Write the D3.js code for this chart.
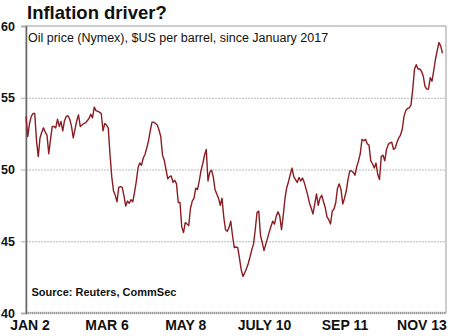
<!DOCTYPE html>
<html><head><meta charset="utf-8">
<script src="https://cdn.jsdelivr.net/npm/d3@7"></script>
<style>
html,body{margin:0;padding:0;background:#fff;}
svg{display:block;font-family:"Liberation Sans",Arial,sans-serif;}
</style></head>
<body>
<svg id="c" width="456" height="336"></svg>
<script>
// Oil price (Nymex), $US per barrel — one reading per trading day
const price = [
53.7,52.3,53.2,53.7,53.9,53.9,52.0,50.9,52.2,52.6,
52.9,52.6,52.4,51.1,52.1,53.0,53.0,52.9,53.5,53.0,
53.35,52.7,53.4,53.7,53.75,53.5,53.0,52.2,52.8,53.4,
53.8,53.0,53.1,53.2,53.25,53.4,53.55,53.85,53.6,54.35,
54.1,54.05,54.0,53.9,52.7,53.2,53.1,52.9,51.05,49.5,
48.5,48.2,47.75,48.75,48.8,48.75,48.15,47.45,47.8,47.65,
47.9,47.75,48.4,49.15,50.1,50.45,50.3,50.8,51.05,51.5,
52.0,52.7,53.3,53.3,53.2,53.1,52.75,52.3,51.0,50.65,
50.0,49.35,49.5,49.55,49.1,49.25,49.0,47.7,47.7,46.0,
45.6,46.3,46.2,46.1,47.3,47.8,48.0,48.7,48.6,49.2,
49.9,50.4,51.0,51.4,49.2,49.8,49.95,49.5,48.6,48.3,
48.0,47.5,48.0,46.7,45.8,45.7,45.95,46.4,45.4,44.55,
44.6,44.55,43.8,43.0,42.55,42.8,43.1,43.45,43.9,44.4,
44.8,45.8,47.0,47.1,45.4,44.9,44.35,44.8,45.2,45.65,
46.05,46.4,46.2,46.75,47.05,46.75,45.8,46.8,48.0,48.75,
49.15,49.65,50.1,49.5,49.3,49.1,49.45,49.2,49.4,49.1,
48.65,48.2,47.65,47.3,46.9,47.6,48.3,47.5,48.0,48.2,
47.75,47.35,46.7,46.5,46.2,47.1,47.25,47.7,48.7,49.0,
48.6,47.6,48.0,48.5,49.3,49.9,49.9,49.8,49.6,50.2,
50.6,51.1,52.1,52.0,52.1,51.8,51.7,50.6,50.4,50.1,
50.45,49.65,49.3,50.9,51.0,50.6,51.4,51.75,51.85,51.9,
51.4,51.5,51.9,52.2,52.4,52.8,53.7,54.1,54.25,54.3,
54.5,55.6,57.0,57.3,57.0,57.0,56.85,56.5,55.8,55.6,
55.6,56.4,56.15,56.9,57.7,58.3,58.85,58.6,58.1
];
const tickDays = [2, 46, 91, 136, 182, 226];
const tickLabels = ["JAN 2", "MAR 6", "MAY 8", "JULY 10", "SEP 11", "NOV 13"];
const yTicks = [40, 45, 50, 55, 60];
const gridValues = [45, 50, 55];
const title = "Inflation driver?";
const subtitle = "Oil price (Nymex), $US per barrel, since January 2017";
const source = "Source: Reuters, CommSec";

const svg = d3.select("#c");
const L = 26, R = 446, T = 26, B = 313;
const x = d3.scaleLinear().domain([0, 240]).range([L, R]);
const y = d3.scaleLinear().domain([40, 60]).range([B, T]);

// frame
svg.append("rect").attr("x", L).attr("y", T).attr("width", R - L).attr("height", B - T)
  .attr("fill", "#fff").attr("stroke", "#9a9a9a").attr("stroke-width", 1);

// gridlines
svg.append("g").selectAll("line").data(gridValues).join("line")
  .attr("x1", L).attr("x2", R).attr("y1", d => y(d) + 0.5).attr("y2", d => y(d) + 0.5)
  .attr("stroke", "#b8b8b8").attr("stroke-width", 1).attr("stroke-dasharray", "2,1");

// bottom line
svg.append("line").attr("x1", L).attr("x2", R).attr("y1", y(40)).attr("y2", y(40))
  .attr("stroke", "#9a9a9a").attr("stroke-width", 2.5).attr("stroke-dasharray", "1,1");

// y axis
const yAxis = svg.append("g").attr("transform", `translate(${L},0)`)
  .call(d3.axisLeft(y).tickValues(yTicks).tickSize(5).tickPadding(6).tickFormat(d3.format("d")));
yAxis.select(".domain").attr("stroke", "#666").attr("stroke-width", 1.5);
yAxis.selectAll(".tick line").attr("stroke", "#aaa");
yAxis.selectAll("text").attr("font-family", "Liberation Sans, Arial, sans-serif")
  .attr("font-size", 12.5).attr("font-weight", "bold").attr("fill", "#111");

// x axis
const xAxis = svg.append("g").attr("transform", `translate(0,${B})`)
  .call(d3.axisBottom(x).tickValues(tickDays).tickSize(0).tickPadding(7)
    .tickFormat((d, i) => tickLabels[i]));
xAxis.select(".domain").remove();
xAxis.selectAll("text").attr("font-family", "Liberation Sans, Arial, sans-serif")
  .attr("font-size", 14).attr("font-weight", "bold").attr("fill", "#111");

// line
const line = d3.line().x((d, i) => x(i)).y(d => y(d));
svg.append("path").datum(price).attr("d", line)
  .attr("fill", "none").attr("stroke", "#8a1c22").attr("stroke-width", 1.4)
  .attr("stroke-linejoin", "round");

// texts
svg.append("text").attr("x", 27).attr("y", 18.5).text(title)
  .attr("font-size", 18.5).attr("font-weight", "bold").attr("fill", "#111");
svg.append("text").attr("x", 28).attr("y", 41.5).text(subtitle)
  .attr("font-size", 12.5).attr("fill", "#111");
svg.append("text").attr("x", 31.5).attr("y", 296).text(source)
  .attr("font-size", 11).attr("font-weight", "bold").attr("fill", "#111");
</script>
</body></html>
